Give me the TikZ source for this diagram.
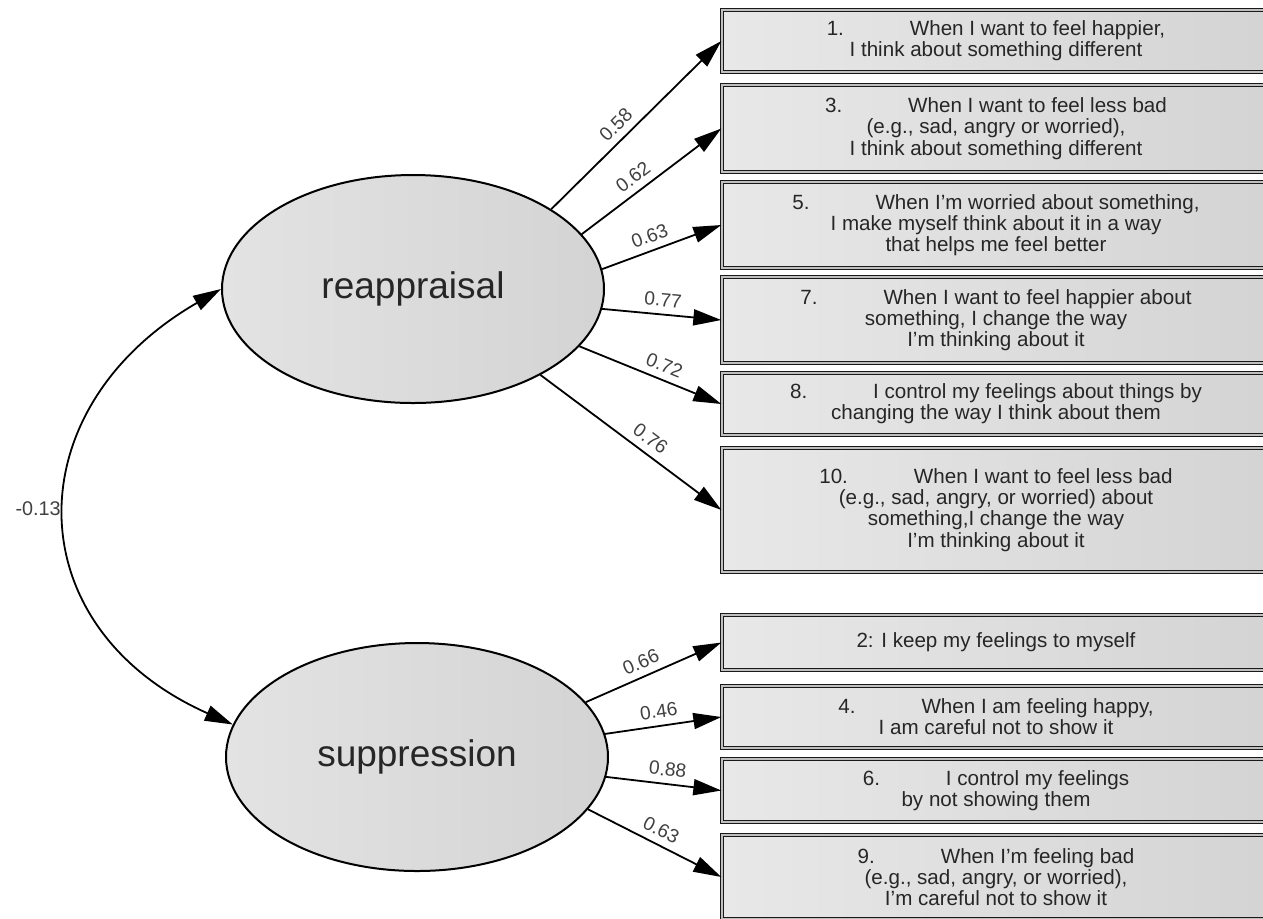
\documentclass[tikz,border=0pt]{standalone}
\usepackage{fontspec}
\setmainfont{Liberation Sans}
\usetikzlibrary{shapes.geometric,arrows.meta}

\begin{document}
\begin{tikzpicture}[x=0.5pt,y=0.5pt,
  factor/.style={ellipse, draw=black, line width=1pt, left color=gray!22, right color=gray!34,
    minimum width=191pt, minimum height=114pt, inner sep=0pt,
    font=\fontsize{18.5}{20}\selectfont, text=black!85},
  item/.style={rectangle, draw=black!90, line width=0.65pt, double=gray!50, double distance=0.6pt,
    left color=gray!18, right color=gray!34, minimum width=274pt, inner sep=0pt,
    align=center, text=black!85, font=\fontsize{10.3}{10.6}\selectfont},
  tipA/.tip={Triangle[length=14pt,width=8pt]},
  load/.style={-tipA, line width=0.9pt},
  coef/.style={sloped, above, font=\fontsize{9.6}{10}\selectfont, text=black!75, inner sep=3.5pt}
]

\useasboundingbox (0,0) rectangle (1263,-918);
\clip (0,0) rectangle (1263,-918);

% latent factors
\node[factor] (rea) at (413,-289) {reappraisal};
\node[factor] (sup) at (417,-757) {suppression};

% items
\node[item, minimum height=31pt] (q1) at (996,-41)
  {1.\hspace{3.2em}When I want to feel happier,\\I think about something different};
\node[item, minimum height=43.5pt] (q3) at (996,-128.5)
  {3.\hspace{3.2em}When I want to feel less bad\\(e.g., sad, angry or worried),\\I think about something different};
\node[item, minimum height=43pt] (q5) at (996,-225)
  {5.\hspace{3.2em}When I'm worried about something,\\I make myself think about it in a way\\that helps me feel better};
\node[item, minimum height=43pt] (q7) at (996,-320)
  {7.\hspace{3.2em}When I want to feel happier about\\something, I change the way\\I'm thinking about it};
\node[item, minimum height=31pt] (q8) at (996,-404)
  {8.\hspace{3.2em}I control my feelings about things by\\changing the way I think about them};
\node[item, minimum height=62pt] (q10) at (996,-510)
  {10.\hspace{3.2em}When I want to feel less bad\\(e.g., sad, angry, or worried) about\\something,I change the way\\I'm thinking about it};

\node[item, minimum height=27.5pt] (q2) at (996,-642.5)
  {2: I keep my feelings to myself};
\node[item, minimum height=31pt] (q4) at (996,-717)
  {4.\hspace{3.2em}When I am feeling happy,\\I am careful not to show it};
\node[item, minimum height=31.5pt] (q6) at (996,-790.5)
  {6.\hspace{3.2em}I control my feelings\\by not showing them};
\node[item, minimum height=42pt] (q9) at (996,-877)
  {9.\hspace{3.2em}When I'm feeling bad\\(e.g., sad, angry, or worried),\\I'm careful not to show it};

% loadings
\draw[load] (rea.30.5) -- (q1.west) node[coef, pos=0.44] {0.58};
\draw[load] (rea.18.5) -- (q3.west) node[coef, pos=0.43] {0.62};
\draw[load] (rea.6.2) -- (q5.west) node[coef, pos=0.44] {0.63};
\draw[load] (rea.-6.9) -- (q7.west) node[coef, pos=0.5] {0.77};
\draw[load] (rea.-19.2) -- (q8.west) node[coef, pos=0.56] {0.72};
\draw[load] (rea.-34.7) -- (q10.west) node[coef, pos=0.56] {0.76};

\draw[load] (sup.18.8) -- (q2.west) node[coef, pos=0.45] {0.66};
\draw[load] (sup.7.5) -- (q4.west) node[coef, pos=0.48] {0.46};
\draw[load] (sup.-6.2) -- (q6.west) node[coef, pos=0.52] {0.88};
\draw[load] (sup.-17) -- (q9.west) node[coef, pos=0.5] {0.63};

% correlation
\draw[tipA-tipA, line width=0.9pt] (rea.west) to[out=210, in=156, looseness=1.4]
  node[left, font=\fontsize{9.9}{10}\selectfont, text=black!75, inner sep=3pt, yshift=3pt] {-0.13} (sup.170);

\end{tikzpicture}
\end{document}
